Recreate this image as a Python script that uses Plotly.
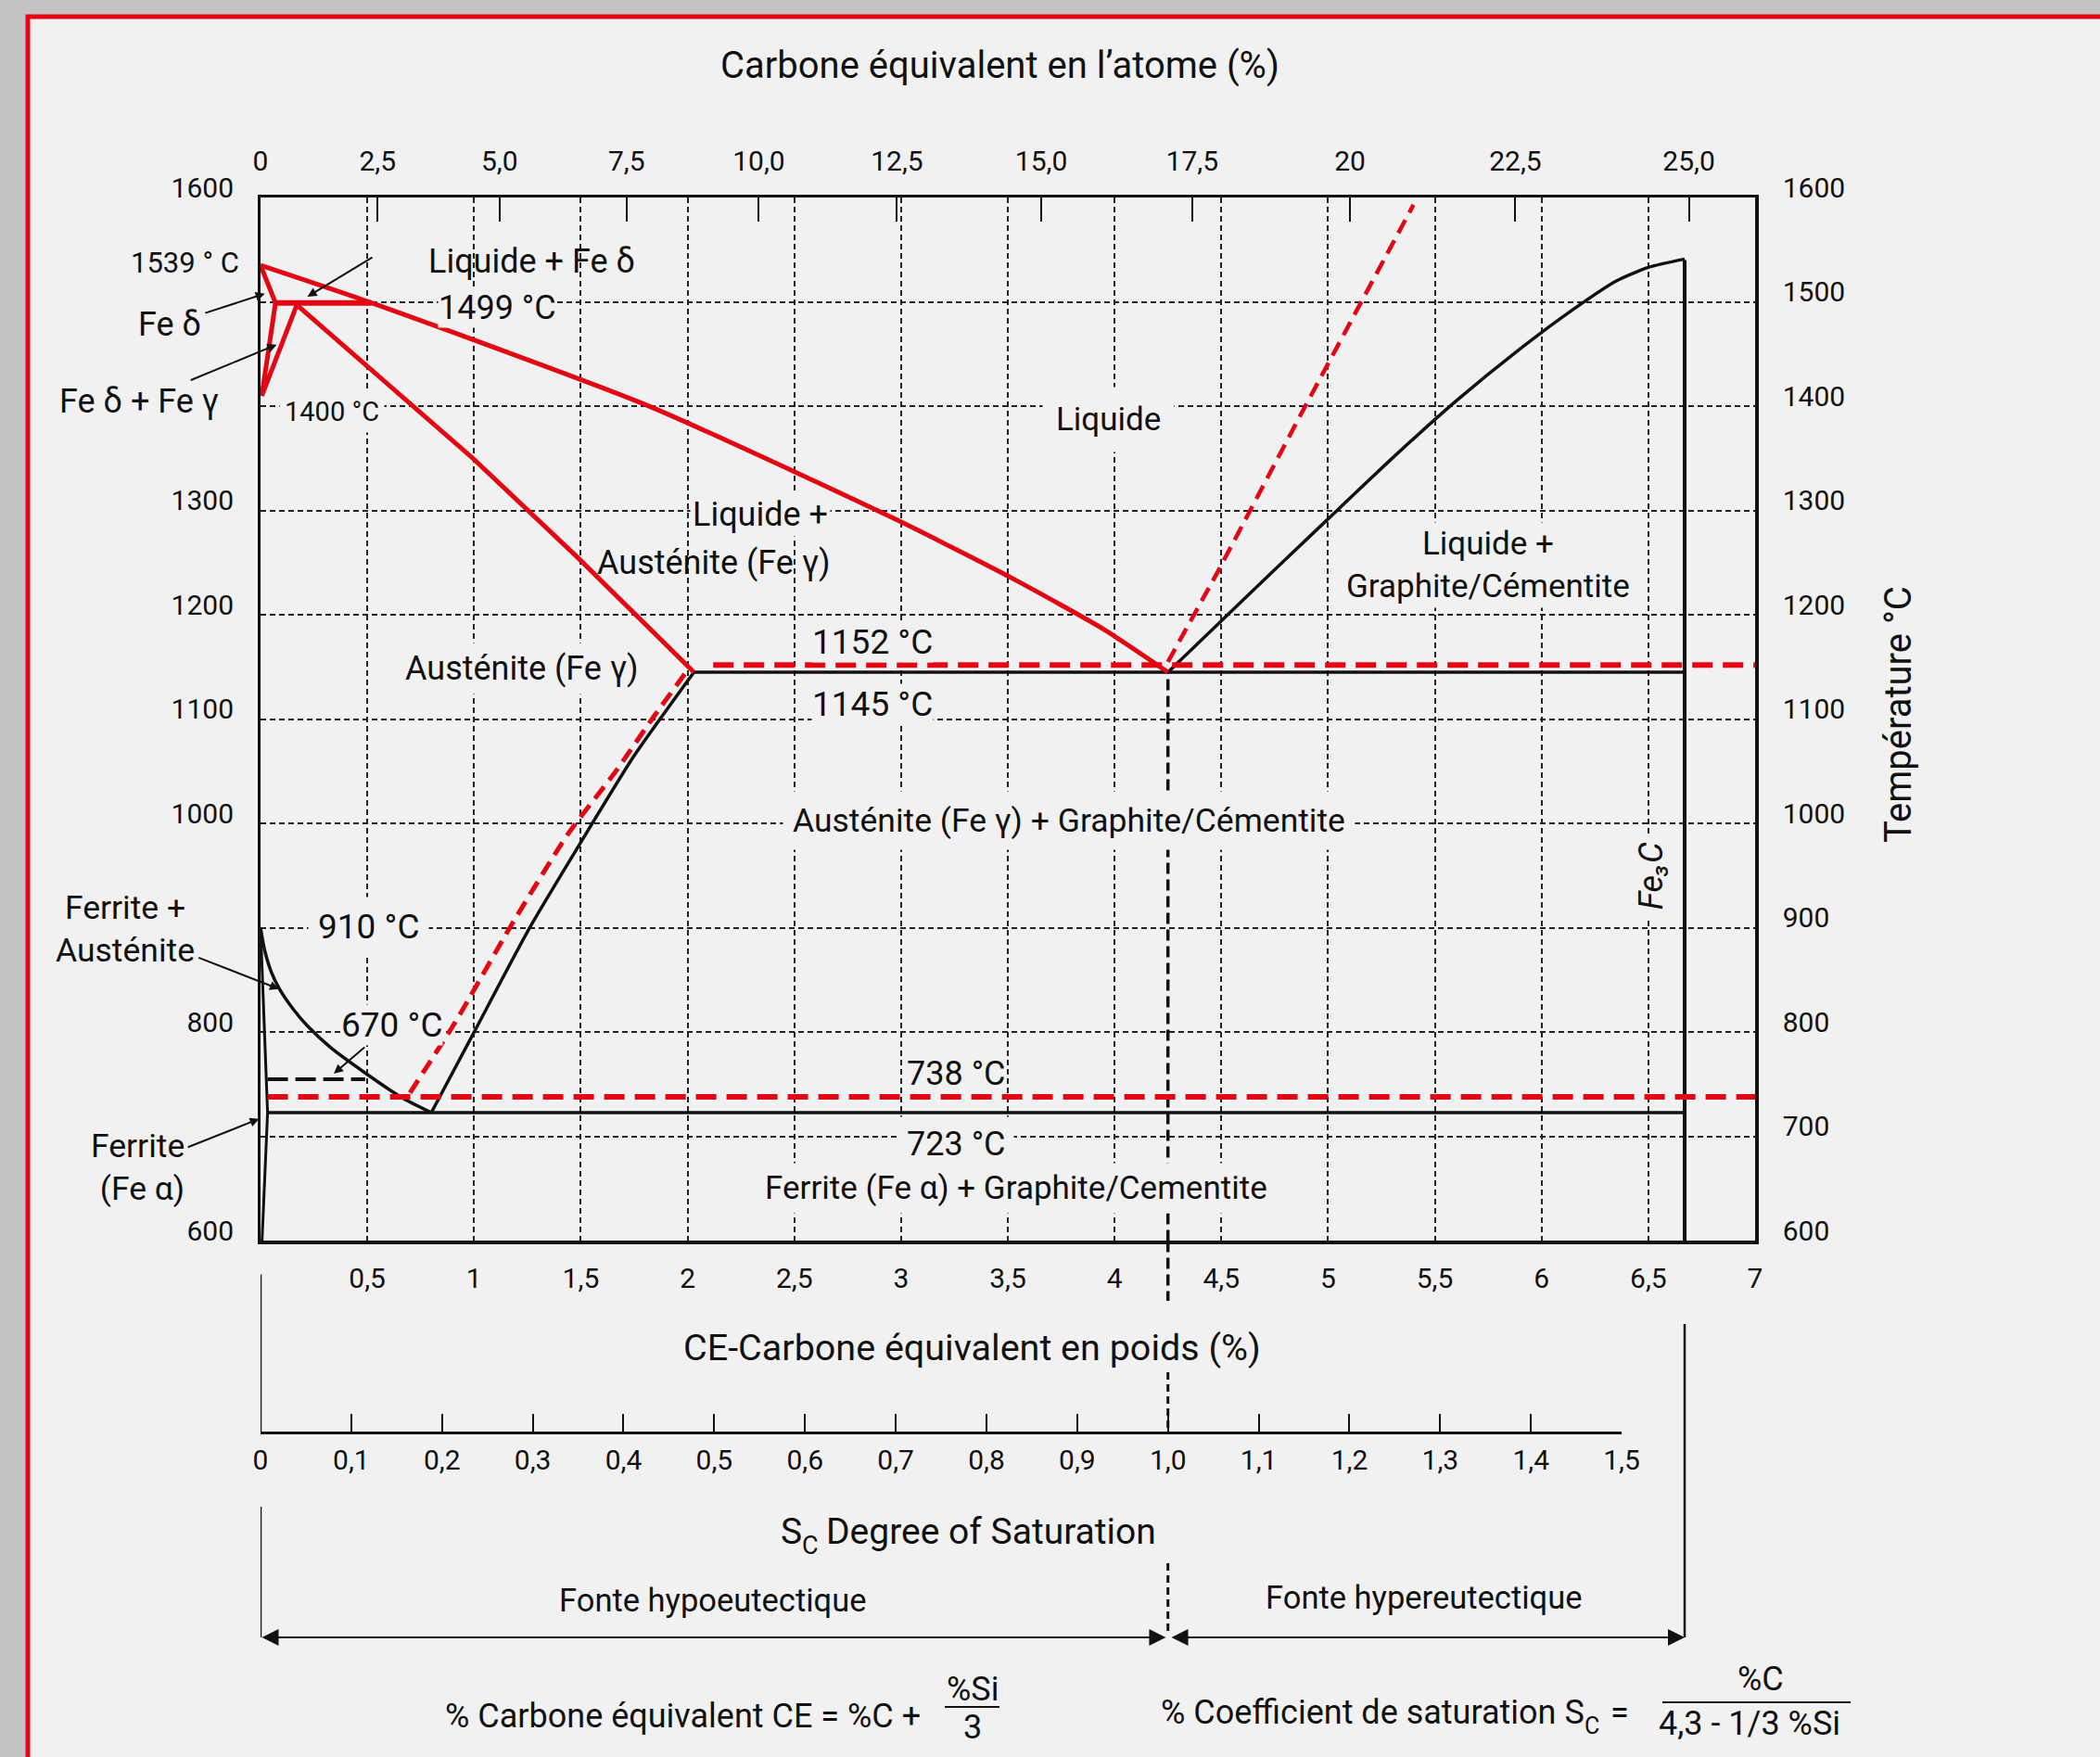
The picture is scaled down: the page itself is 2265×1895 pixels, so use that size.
import plotly.graph_objects as go

# ------------------------------------------------------------------
# DATA  (x = carbone équivalent en poids %, y = température °C)
# ------------------------------------------------------------------
# red solid : liquidus / solidus / delta region
LIQUIDUS_WT = [0, 0.52, 1.82, 2.97, 3.53, 3.95, 4.25]
LIQUIDUS_T = [1535, 1499, 1400, 1292, 1234, 1186, 1145]
DELTA_WT = [0, 0.07, 0.006, 0.17]
DELTA_T = [1535, 1499, 1410, 1497]
PERITECTIC_WT = [0.07, 0.52]
PERITECTIC_T = [1499, 1499]
SOLIDUS_WT = [0.17, 1.00, 1.48, 1.73, 2.03]
SOLIDUS_T = [1497, 1349, 1256, 1206, 1145]

# red dashed : stable (graphite) system
EUT_STABLE_WT = [2.12, 7.0]
EUT_STABLE_T = [1152, 1152]
EUTD_STABLE_WT = [0.033, 7.0]
EUTD_STABLE_T = [738, 738]
ACM_STABLE_WT = [0.70, 0.91, 1.17, 1.44, 1.66, 1.84, 2.00]
ACM_STABLE_T = [742, 809, 901, 990, 1049, 1102, 1147]
GRAPHITE_LIQ_WT = [4.25, 4.48, 4.88, 5.40]
GRAPHITE_LIQ_T = [1155, 1240, 1395, 1593]

# black : metastable (cementite) system
EUT_META_WT = [2.03, 6.67]
EUT_META_T = [1145, 1145]
EUTD_META_WT = [0.033, 6.67]
EUTD_META_T = [723, 723]
FE3C_WT = [6.67, 6.67]
FE3C_T = [600, 1540]
HYPER_LIQ_WT = [4.25, 4.60, 4.99, 5.30, 5.60, 5.90, 6.15, 6.35, 6.50, 6.67]
HYPER_LIQ_T = [1145, 1214, 1290, 1350, 1405, 1455, 1493, 1520, 1533, 1541]
ACM_META_WT = [0.80, 1.00, 1.26, 1.50, 1.75, 2.03]
ACM_META_T = [723, 800, 900, 982, 1065, 1145]
A3_WT = [0, 0.02, 0.05, 0.09, 0.15, 0.22, 0.33, 0.49, 0.665, 0.80]
A3_T = [900, 878, 858, 841, 823, 806, 785, 761, 737, 723]
FERRITE_WT = [0, 0.033, 0.007]
FERRITE_T = [900, 723, 600]
MAGNETIC_WT = [0.033, 0.49]
MAGNETIC_T = [755, 755]
EUTECTIC_WT = 4.25
EUTECTIC_DASH_T = [600, 1145]

# axes
WT_TICKS = [0.5, 1, 1.5, 2, 2.5, 3, 3.5, 4, 4.5, 5, 5.5, 6, 6.5, 7]
WT_LABELS = ["0,5", "1", "1,5", "2", "2,5", "3", "3,5", "4", "4,5", "5", "5,5", "6", "6,5", "7"]
AT_TICKS = [0, 2.5, 5, 7.5, 10, 12.5, 15, 17.5, 20, 22.5, 25]
AT_LABELS = ["0", "2,5", "5,0", "7,5", "10,0", "12,5", "15,0", "17,5", "20", "22,5", "25,0"]
T_TICKS = [600, 700, 800, 900, 1000, 1100, 1200, 1300, 1400, 1500, 1600]
T_RIGHT_LABELS = ["600", "700", "800", "900", "1000", "1100", "1200", "1300", "1400", "1500", "1600"]
T_LEFT_TICKS = [600, 800, 1000, 1100, 1200, 1300, 1600]
T_LEFT_LABELS = ["600", "800", "1000", "1100", "1200", "1300", "1600"]
SC_TICKS = [0, 0.1, 0.2, 0.3, 0.4, 0.5, 0.6, 0.7, 0.8, 0.9, 1.0, 1.1, 1.2, 1.3, 1.4, 1.5]
SC_LABELS = ["0", "0,1", "0,2", "0,3", "0,4", "0,5", "0,6", "0,7", "0,8", "0,9",
             "1,0", "1,1", "1,2", "1,3", "1,4", "1,5"]
M_C, M_FE = 12.011, 55.845


def at_to_wt(a):
    return 100 * a * M_C / (a * M_C + (100 - a) * M_FE)


# ------------------------------------------------------------------
# LAYOUT GEOMETRY
# ------------------------------------------------------------------
W, H = 2265, 1895
ML, MR, MT, MB = 281, 372, 213, 95
PW, PH = W - ML - MR, H - MT - MB
PLOT_BOTTOM_PX = 1338.4
SC_AXIS_PX = 1545


def px(X, Y):
    return (X - ML) / PW, (H - MB - Y) / PH


FONT = "Roboto, Liberation Sans, sans-serif"
INK = "#111111"
RED = "#e30613"
BG = "#f1f1f1"
OUTER = "#c4c4c4"
TICK_SIZE = 30
LAB = 36      # region / temperature labels
TITLE = 40    # axis titles

fig = go.Figure()


def line(xs, ys, color, width, dash="solid", shape="linear"):
    fig.add_trace(go.Scatter(x=xs, y=ys, mode="lines",
                             line=dict(color=color, width=width, dash=dash, shape=shape,
                                       smoothing=0.6),
                             hoverinfo="skip", showlegend=False))


# black (metastable)
line(FERRITE_WT, FERRITE_T, INK, 3)
line(A3_WT, A3_T, INK, 3.5, shape="spline")
line(MAGNETIC_WT, MAGNETIC_T, INK, 4, dash="22px,8px")
line(ACM_META_WT, ACM_META_T, INK, 3.5, shape="spline")
line(EUTD_META_WT, EUTD_META_T, INK, 3.5)
line(EUT_META_WT, EUT_META_T, INK, 3.5)
line(HYPER_LIQ_WT, HYPER_LIQ_T, INK, 3.5, shape="spline")
line(FE3C_WT, FE3C_T, INK, 4)
line([EUTECTIC_WT, EUTECTIC_WT], EUTECTIC_DASH_T, INK, 3.5, dash="12px,6px")

# red dashed (stable)
line(EUTD_STABLE_WT, EUTD_STABLE_T, RED, 6, dash="22px,11px")
line(EUT_STABLE_WT, EUT_STABLE_T, RED, 6, dash="22px,11px")
line(ACM_STABLE_WT, ACM_STABLE_T, RED, 5, dash="16px,9px", shape="spline")
line(GRAPHITE_LIQ_WT, GRAPHITE_LIQ_T, RED, 4.5, dash="16px,9px")

# red solid
line(LIQUIDUS_WT, LIQUIDUS_T, RED, 5, shape="spline")
line(DELTA_WT, DELTA_T, RED, 5)
line(PERITECTIC_WT, PERITECTIC_T, RED, 6)
line(SOLIDUS_WT, SOLIDUS_T, RED, 5)

# empty traces to activate the extra axes
fig.add_trace(go.Scatter(x=[], y=[], xaxis="x2", yaxis="y", showlegend=False))
fig.add_trace(go.Scatter(x=[], y=[], xaxis="x", yaxis="y2", showlegend=False))
fig.add_trace(go.Scatter(x=[], y=[], xaxis="x3", yaxis="y", showlegend=False))

y_dom0 = (H - MB - PLOT_BOTTOM_PX) / PH
sc_pos = px(0, SC_AXIS_PX)[1]
tickfont = dict(family=FONT, size=TICK_SIZE, color=INK)
grid = dict(showgrid=True, gridcolor="#222222", gridwidth=1.8, griddash="6px,4px")

fig.update_layout(
    width=W, height=H,
    margin=dict(l=ML, r=MR, t=MT, b=MB, pad=0),
    paper_bgcolor=OUTER, plot_bgcolor="rgba(0,0,0,0)",
    font=dict(family=FONT, color=INK),
    showlegend=False,
    xaxis=dict(domain=[0, 1], range=[0, 7], anchor="y", tickvals=WT_TICKS, ticktext=WT_LABELS,
               tickfont=tickfont, ticks="", showline=True, linewidth=3.5, linecolor=INK,
               zeroline=False, ticklabelstandoff=11, **grid),
    xaxis2=dict(overlaying="x", side="top", anchor="y", range=[0, 7],
                tickvals=[at_to_wt(a) for a in AT_TICKS], ticktext=AT_LABELS,
                tickfont=tickfont, ticks="inside", ticklen=26, tickwidth=2, tickcolor=INK,
                showline=True, linewidth=2.5, linecolor=INK, showgrid=False, zeroline=False,
                ticklabelstandoff=14),
    xaxis3=dict(anchor="free", position=sc_pos, domain=[0, 1.5 * EUTECTIC_WT / 7], range=[0, 1.5],
                tickvals=SC_TICKS, ticktext=SC_LABELS, tickfont=tickfont,
                ticks="inside", ticklen=19, tickwidth=2, tickcolor=INK,
                showline=True, linewidth=2.5, linecolor=INK, showgrid=False, zeroline=False,
                ticklabelstandoff=2),
    yaxis=dict(domain=[y_dom0, 1], range=[600, 1600], anchor="x", tickvals=T_LEFT_TICKS,
               ticktext=T_LEFT_LABELS, tickfont=tickfont, ticks="", showline=True,
               linewidth=3, linecolor=INK, zeroline=False, showgrid=False,
               ticklabelstandoff=20, ticklabelshift=-11),
    yaxis2=dict(overlaying="y", side="right", anchor="x", range=[600, 1600], tickvals=T_TICKS,
                ticktext=T_RIGHT_LABELS, tickfont=tickfont, ticks="", showline=True,
                linewidth=3.5, linecolor=INK, zeroline=False,
                ticklabelstandoff=20, ticklabelshift=-11, **grid),
)

shapes = []
# outer red frame
fx0, fy0 = px(30, 18)
fx1, fy1 = px(2400, 2000)
shapes.append(dict(type="rect", xref="paper", yref="paper", x0=fx0, y0=fy1, x1=fx1, y1=fy0,
                   fillcolor=BG, line=dict(color=RED, width=5), layer="below"))


def vseg(wt, Y0, Y1, width=2.5, dash="solid"):
    shapes.append(dict(type="line", xref="x", yref="paper", x0=wt, x1=wt,
                       y0=px(0, Y0)[1], y1=px(0, Y1)[1],
                       line=dict(color=INK, width=width, dash=dash), layer="above"))


vseg(0, 1374.6, 1545)
vseg(0, 1625, 1766)
vseg(FE3C_WT[0], 1428, 1766)
vseg(EUTECTIC_WT, PLOT_BOTTOM_PX, 1403, 3.5, "12px,6px")
vseg(EUTECTIC_WT, 1480, 1545, 3, "8px,5px")
vseg(EUTECTIC_WT, 1686, 1763, 3, "8px,5px")


def hbar(X0, X1, Y):
    a = px(X0, Y)
    b = px(X1, Y)
    shapes.append(dict(type="line", xref="paper", yref="paper", x0=a[0], x1=b[0], y0=a[1], y1=b[1],
                       line=dict(color=INK, width=2.2)))


hbar(1019, 1078, 1841)
hbar(1793, 1996, 1836)
fig.update_layout(shapes=shapes)

ann = []


def lab_data(text, x, y, size, xanchor="center", bg=False, pad=0, align="center", angle=0):
    ann.append(dict(text=text, x=x, y=y, xref="x", yref="y", showarrow=False, xanchor=xanchor,
                    yanchor="middle", align=align, textangle=angle,
                    font=dict(family=FONT, size=size, color=INK),
                    bgcolor=BG if bg else None, borderpad=pad))


def lab_px(text, X, Y, size, xanchor="center", align="center", angle=0):
    p = px(X, Y)
    ann.append(dict(text=text, x=p[0], y=p[1], xref="paper", yref="paper", showarrow=False,
                    xanchor=xanchor, yanchor="middle", align=align, textangle=angle,
                    font=dict(family=FONT, size=size, color=INK), borderpad=0))


def lab_arrow(text, center, head, size, align="center", bg=False, asize=1.0):
    """Label whose arrow points from the text to `head` (pixel positions)."""
    p = px(*head)
    ann.append(dict(text=text, x=p[0], y=p[1], xref="paper", yref="paper", showarrow=True,
                    ax=center[0] - head[0], ay=center[1] - head[1], axref="pixel", ayref="pixel",
                    align=align, font=dict(family=FONT, size=size, color=INK),
                    arrowhead=2, arrowsize=asize, arrowwidth=2, arrowcolor=INK,
                    standoff=0, startstandoff=4, bgcolor=BG if bg else None, borderpad=0))


def arrow_px(head, tail, size=1.0, width=2):
    p = px(*head)
    ann.append(dict(text="", x=p[0], y=p[1], xref="paper", yref="paper", showarrow=True,
                    ax=tail[0] - head[0], ay=tail[1] - head[1], axref="pixel", ayref="pixel",
                    arrowhead=2, arrowsize=size, arrowwidth=width, arrowcolor=INK,
                    standoff=0, startstandoff=0))


# labels inside the diagram (data coordinates)
lab_data("Liquide + Fe δ", 1.27, 1539, LAB)
lab_data("1499 °C", 1.11, 1494, LAB, bg=True, pad=0)
lab_data("1400 °C", 0.333, 1395, 29, bg=True, pad=5)
lab_data("Liquide", 3.969, 1387, 35, bg=True, pad=14)
lab_data("Liquide +", 2.672, 1296, LAB, xanchor="right", bg=True, pad=2)
lab_data("Austénite (Fe γ)", 2.672, 1250, LAB, xanchor="right")
lab_data("Austénite (Fe γ)", 1.222, 1149, LAB, bg=True, pad=6)
lab_data("1152 °C", 2.868, 1174, 37, bg=True, pad=0)
lab_data("1145 °C", 2.868, 1114, 37, bg=True, pad=0)
lab_data("Austénite (Fe γ) + Graphite/Cémentite", 3.788, 1003, 35.5, bg=True, pad=10)
lab_data("Liquide +<br>Graphite/Cémentite", 5.751, 1248, 35, bg=True, pad=2)
lab_data("910 °C", 0.505, 901, 37, bg=True, pad=10)
lab_data("738 °C", 3.259, 760, LAB)
lab_data("723 °C", 3.259, 693, LAB, bg=True, pad=8)
lab_data("Ferrite (Fe α) + Graphite/Cementite", 3.541, 651, 35, bg=True, pad=6)
lab_data("<i>Fe₃C</i>", 6.513, 950, LAB, bg=True, pad=8, angle=-90)

# labels with arrows
arrow_px((331.6, 320), (403, 276.7))
lab_arrow("Fe δ", (183, 350), (285.7, 316.7), LAB)
lab_arrow("Fe δ + Fe γ", (150, 433), (298.5, 371.7), LAB)
lab_arrow("Ferrite +<br>Austénite", (135, 1002), (301, 1066.7), 35.5)
lab_arrow("Ferrite<br>(Fe α)", (148, 1259), (279.6, 1206.7), 35.5, align="right")
lab_arrow("670 °C", (422, 1105), (360, 1158), 37, bg=True)

# labels left of the diagram
lab_px("1539 ° C", 259, 283, 31, xanchor="right")

# titles
lab_px("Carbone équivalent en l’atome (%)", 1078, 70, TITLE)
lab_px("Température °C", 2047, 771, TITLE, angle=-90)
lab_px("CE-Carbone équivalent en poids (%)", 1048, 1453, 39.5)
# "S_C Degree of Saturation" (subscript built from two texts)
lab_px("S", 866, 1652, 39, xanchor="right")
lab_px("C", 864, 1667, 27, xanchor="left")
lab_px("Degree of Saturation", 890, 1652, 39, xanchor="left")
lab_px("Fonte hypoeutectique", 769, 1726, 34.5)
lab_px("Fonte hypereutectique", 1536, 1723, 34.5)

# formulas
lab_px("% Coefficient de saturation S", 1710, 1847, 36, xanchor="right")
lab_px("C", 1708, 1861, 25, xanchor="left")
lab_px("=", 1736, 1847, 36, xanchor="left")
lab_px("% Carbone équivalent CE = %C + ", 1003, 1851, 36, xanchor="right")
lab_px("%Si", 1049, 1822, 36)
lab_px("3", 1049, 1863, 36)
lab_px("%C", 1899, 1811, 36)
lab_px("4,3 - 1/3 %Si", 1887, 1859, 36)

# double arrows hypo / hyper
ya = px(0, 1766)[1]
ann.append(dict(text="", x=EUTECTIC_WT - 0.01, y=ya, xref="x", yref="paper", ax=0, ay=0,
                axref="x", ayref="pixel", showarrow=True, arrowhead=2, arrowside="end+start",
                arrowsize=1.8, arrowwidth=2, arrowcolor=INK, standoff=0, startstandoff=0))
ann.append(dict(text="", x=FE3C_WT[0], y=ya, xref="x", yref="paper", ax=EUTECTIC_WT + 0.01, ay=0,
                axref="x", ayref="pixel", showarrow=True, arrowhead=2, arrowside="end+start",
                arrowsize=1.8, arrowwidth=2, arrowcolor=INK, standoff=0, startstandoff=0))

fig.update_layout(annotations=ann)

fig.write_html("out.html", config={"displayModeBar": False},
               post_script="document.body.style.margin='0';document.body.style.overflow='hidden';")
